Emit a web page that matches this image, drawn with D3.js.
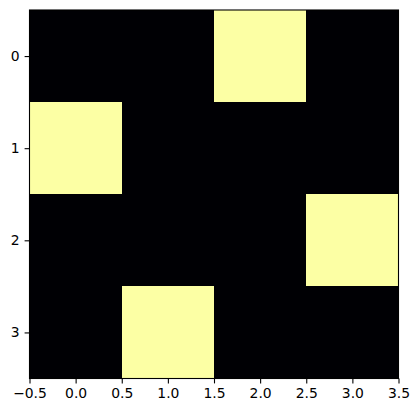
<!DOCTYPE html>
<html>
<head>
<meta charset="utf-8">
<script src="https://cdn.jsdelivr.net/npm/d3@7"></script>
<style>
  body { margin: 0; background: #fff; }
  svg { display: block; }
  .tick text { font-family: "DejaVu Sans", sans-serif; font-size: 13.9px; fill: #000; }
</style>
</head>
<body>
<div id="chart"></div>
<script>
// 4x4 matrix shown as an image
var rows = [0, 1, 2, 3];
var cols = [0, 1, 2, 3];
var values = [
    [0, 0, 1, 0],
    [1, 0, 0, 0],
    [0, 0, 0, 1],
    [0, 1, 0, 0]
];
var xTicks = [-0.5, 0.0, 0.5, 1.0, 1.5, 2.0, 2.5, 3.0, 3.5];
var yTicks = [0, 1, 2, 3];

var W = 419, H = 413;
var margin = {top: 10, right: 20.5, bottom: 34.5, left: 29.5};
var width = W - margin.left - margin.right;
var height = H - margin.top - margin.bottom;

var svg = d3.select('#chart').append('svg')
    .attr('width', W)
    .attr('height', H);

var g = svg.append('g')
    .attr('transform', 'translate(' + margin.left + ',' + margin.top + ')');

var xScale = d3.scaleLinear().domain([-0.5, 3.5]).range([0, width]);
var yScale = d3.scaleLinear().domain([-0.5, 3.5]).range([0, height]);
var color = d3.scaleSequential(d3.interpolateInferno).domain([0, 1]);

var cells = [];
rows.forEach(function(r) {
    cols.forEach(function(c) {
        cells.push({r: r, c: c, v: values[r][c]});
    });
});

g.selectAll('rect.cell')
    .data(cells)
    .enter().append('rect')
    .attr('class', 'cell')
    .attr('x', function(d) { return xScale(d.c - 0.5); })
    .attr('y', function(d) { return yScale(d.r - 0.5); })
    .attr('width', xScale(0.5) - xScale(-0.5))
    .attr('height', yScale(0.5) - yScale(-0.5))
    .attr('fill', function(d) { return color(d.v); })
    .attr('shape-rendering', 'crispEdges');

var xAxis = d3.axisBottom(xScale)
    .tickValues(xTicks)
    .tickSize(4.9)
    .tickPadding(4.9)
    .tickFormat(function(d) { return d3.format('.1f')(d).replace('-', '\u2212'); });

var yAxis = d3.axisLeft(yScale)
    .tickValues(yTicks)
    .tickSize(4.9)
    .tickPadding(4.9)
    .tickFormat(d3.format('d'));

var gx = g.append('g')
    .attr('transform', 'translate(0,' + height + ')')
    .call(xAxis);
var gy = g.append('g').call(yAxis);

[gx, gy].forEach(function(a) {
    a.select('.domain').remove();
    a.selectAll('.tick line').attr('stroke', '#000').attr('stroke-width', 1.1);
});

// frame
g.append('rect')
    .attr('width', width)
    .attr('height', height)
    .attr('fill', 'none')
    .attr('stroke', '#000')
    .attr('stroke-width', 1.1);
</script>
</body>
</html>
